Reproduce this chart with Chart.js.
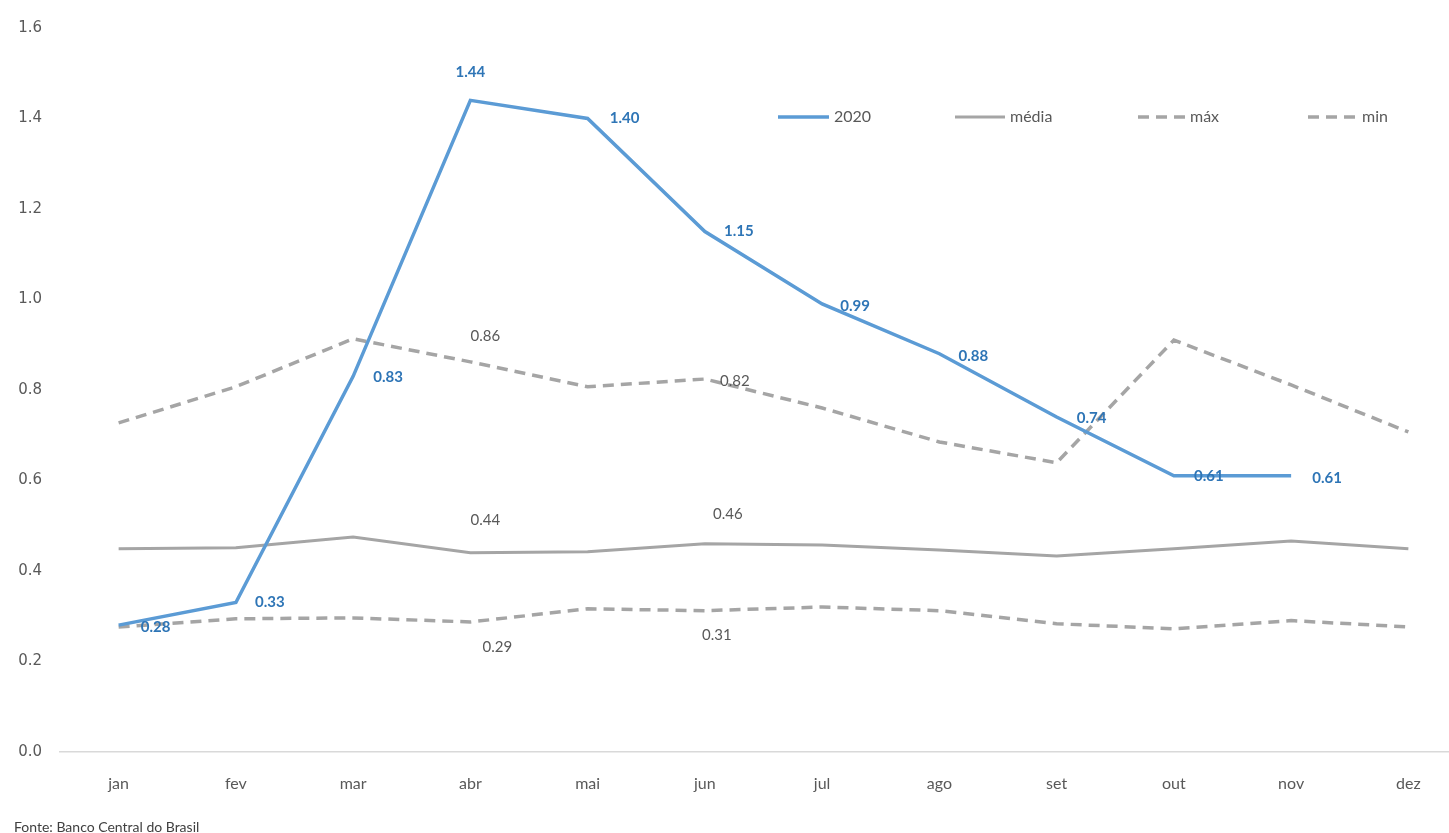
<!DOCTYPE html>
<html>
<head>
<meta charset="utf-8">
<script src="https://cdn.jsdelivr.net/npm/chart.js@4.4.1/dist/chart.umd.min.js"></script>
<style>
  html, body { margin: 0; padding: 0; background: #fff; overflow: hidden; }
  #wrap { position: relative; width: 1468px; height: 833px; }
  #fonte { position: absolute; left: 14px; top: 818px; font: 14px Lato, "Open Sans", sans-serif; color: #404040; }
</style>
</head>
<body>
<div id="wrap">
  <canvas id="chart" width="1468" height="833"></canvas>
  <div id="fonte">Fonte: Banco Central do Brasil</div>
</div>
<script>
// months
const months = ['jan', 'fev', 'mar', 'abr', 'mai', 'jun', 'jul', 'ago', 'set', 'out', 'nov', 'dez'];

// series values
const serie2020 = [0.28, 0.33, 0.83, 1.44, 1.40, 1.15, 0.99, 0.88, 0.74, 0.61, 0.61, null];
const media = [0.449, 0.451, 0.475, 0.44, 0.442, 0.46, 0.457, 0.446, 0.433, 0.449, 0.466, 0.449];
const maximo = [0.727, 0.807, 0.913, 0.862, 0.807, 0.824, 0.76, 0.685, 0.639, 0.91, 0.811, 0.707];
const minimo = [0.276, 0.294, 0.296, 0.287, 0.316, 0.312, 0.32, 0.312, 0.283, 0.272, 0.29, 0.276];

const yTicks = [0, 0.2, 0.4, 0.6, 0.8, 1.0, 1.2, 1.4, 1.6];

const BLUE = '#5b9bd5';
const GREY = '#a5a5a5';
const TEXT = '#595959';

// which points carry a value label, and where it sits relative to the point
const labelSpots = {
  0: { color: '#2e75b6', bold: true, offsets: { 0: [37, 2], 1: [34, 0], 2: [35, 1], 3: [0, -28], 4: [37, 0], 5: [34, 0], 6: [33, 2], 7: [34, 2], 8: [35, 1], 9: [35, 0], 10: [36, 2] } },
  1: { color: TEXT, offsets: { 3: [15, -33], 5: [23, -30] } },
  2: { color: TEXT, offsets: { 3: [15, -26], 5: [30, 2] } },
  3: { color: TEXT, offsets: { 3: [27, 25], 5: [12, 24] } }
};

const valueLabels = {
  id: 'valueLabels',
  afterDatasetsDraw(chart) {
    const ctx = chart.ctx;
    ctx.save();
    ctx.textAlign = 'center';
    ctx.textBaseline = 'middle';
    Object.keys(labelSpots).forEach(di => {
      const spot = labelSpots[di];
      const meta = chart.getDatasetMeta(di);
      const data = chart.data.datasets[di].data;
      ctx.fillStyle = spot.color;
      ctx.font = (spot.bold ? 'bold ' : '') + '15px Lato, "Open Sans", sans-serif';
      Object.keys(spot.offsets).forEach(i => {
        const pt = meta.data[i];
        if (!pt || data[i] == null) return;
        const [dx, dy] = spot.offsets[i];
        ctx.fillText(data[i].toFixed(2), pt.x + dx, pt.y + dy);
      });
    });
    ctx.restore();
  }
};

// legend drawn inside the plot, top right
const insideLegend = {
  id: 'insideLegend',
  afterDraw(chart) {
    const ctx = chart.ctx;
    const items = [[778, 834], [955, 1010], [1138, 1190], [1308, 1362]];
    const y = 117;
    ctx.save();
    ctx.font = '16px Lato, "Open Sans", sans-serif';
    ctx.textBaseline = 'middle';
    ctx.textAlign = 'left';
    chart.data.datasets.forEach((ds, i) => {
      const [x0, tx] = items[i];
      ctx.strokeStyle = ds.borderColor;
      ctx.lineWidth = ds.borderWidth;
      ctx.setLineDash(ds.borderDash || []);
      ctx.beginPath();
      ctx.moveTo(x0, y);
      ctx.lineTo(tx - 5, y);
      ctx.stroke();
      ctx.setLineDash([]);
      ctx.fillStyle = TEXT;
      ctx.fillText(ds.label, tx, y);
    });
    ctx.restore();
  }
};

new Chart(document.getElementById('chart'), {
  type: 'line',
  data: {
    labels: months,
    datasets: [
      { label: '2020', data: serie2020, borderColor: BLUE, borderWidth: 3.5, pointRadius: 0, tension: 0, spanGaps: false },
      { label: 'média', data: media, borderColor: GREY, borderWidth: 3, pointRadius: 0, tension: 0 },
      { label: 'máx', data: maximo, borderColor: GREY, borderWidth: 3.5, borderDash: [11, 7], pointRadius: 0, tension: 0 },
      { label: 'min', data: minimo, borderColor: GREY, borderWidth: 3.5, borderDash: [11, 7], pointRadius: 0, tension: 0 }
    ]
  },
  options: {
    responsive: false,
    animation: false,
    layout: { padding: { top: 28, right: 1, bottom: 18, left: 0 } },
    plugins: {
      legend: { display: false },
      tooltip: { enabled: false }
    },
    scales: {
      x: {
        offset: true,
        grid: { display: false, drawTicks: false },
        border: { display: true, color: '#d9d9d9', width: 1.5 },
        ticks: { color: TEXT, font: { size: 16, family: 'Lato, "Open Sans", sans-serif' }, padding: 22 }
      },
      y: {
        min: 0,
        max: 1.6,
        afterFit(scale) { scale.width = 60; },
        afterBuildTicks(scale) { scale.ticks = yTicks.map(v => ({ value: v })); },
        grid: { display: false, drawTicks: false },
        border: { display: false },
        ticks: {
          color: TEXT,
          padding: 18,
          font: { size: 15, family: '"DejaVu Sans", sans-serif' },
          callback: v => v.toFixed(1)
        }
      }
    }
  },
  plugins: [valueLabels, insideLegend]
});
</script>
</body>
</html>
